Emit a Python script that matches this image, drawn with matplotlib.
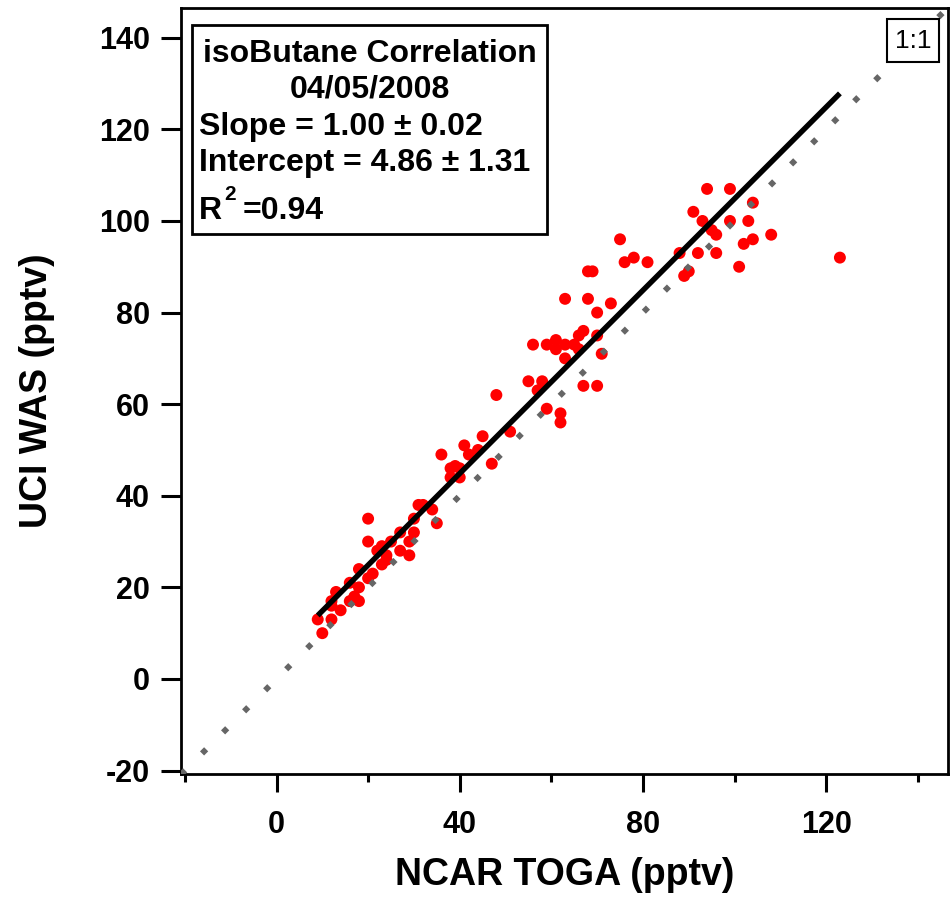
import matplotlib
matplotlib.use("Agg")
import matplotlib.pyplot as plt
from matplotlib.patches import Rectangle
import numpy as np

# ---- data ----
toga = [94, 99, 104, 91, 93, 99, 103, 95, 96, 104, 108, 102, 75, 88, 92, 96, 76, 78, 81, 101,
        90, 89, 123, 68, 69, 63, 68, 73, 70, 67, 66, 70, 61, 56, 59, 61, 63, 65, 66, 63,
        71, 55, 58, 57, 67, 70, 48, 59, 62, 62, 51, 45, 41, 44, 42, 36, 47, 38, 39, 40,
        38, 40, 31, 32, 34, 30, 35, 20, 27, 30, 20, 29, 23, 25, 22, 27, 29, 24, 23, 24,
        18, 20, 21, 16, 18, 13, 17, 16, 18, 12, 14, 12, 9, 12, 10]
was = [107, 107, 104, 102, 100, 100, 100, 98, 97, 96, 97, 95, 96, 93, 93, 93, 91, 92, 91, 90,
       89, 88, 92, 89, 89, 83, 83, 82, 80, 76, 75, 75, 74, 73, 73, 72, 73, 73, 72, 70,
       71, 65, 65, 63, 64, 64, 62, 59, 58, 56, 54, 53, 51, 50, 49, 49, 47, 46, 46.5, 46,
       44, 44, 38, 38, 37, 35, 34, 35, 32, 32, 30, 30, 29, 30, 28, 28, 27, 27, 25, 26,
       24, 22, 23, 21, 20, 19, 18, 17, 17, 17, 15, 16, 13, 13, 10]

slope = 1.00
intercept = 4.86
title_lines = ["isoButane Correlation", "04/05/2008"]
stats_lines = ["Slope = 1.00 \u00b1 0.02", "Intercept = 4.86 \u00b1 1.31"]
r2_text = "=0.94"
x_ticks_major = [0, 40, 80, 120]
x_ticks_minor = [-20, 20, 60, 100, 140]
y_ticks = [-20, 0, 20, 40, 60, 80, 100, 120, 140]
xlim = (-20.85, 146.6)
ylim = (-20.75, 146.5)

FONT = "Liberation Sans"
W, H = 951, 901

fig = plt.figure(figsize=(W / 100, H / 100), dpi=100)
ax = fig.add_axes([181 / W, 1 - 774 / H, (948 - 181) / W, (774 - 8) / H])

ax.scatter(toga, was, s=74, color="#ff0000", edgecolors="none", zorder=2)

# 1:1 line
lx = np.array([xlim[0], xlim[1]])
ax.plot(lx, lx, color="#666666", lw=4.2, dashes=(1, 4.1), dash_capstyle="butt", zorder=3)

# fit line
fx = np.array([min(toga), max(toga)])
ax.plot(fx, intercept + slope * fx, color="black", lw=3.9, solid_capstyle="butt", zorder=4)

ax.set_xlim(*xlim)
ax.set_ylim(*ylim)
ax.set_xticks(x_ticks_major)
ax.set_xticks(x_ticks_minor, minor=True)
ax.set_yticks(y_ticks)
ax.set_xticklabels([str(v) for v in x_ticks_major])
ax.set_yticklabels([str(v) for v in y_ticks])

for sp in ax.spines.values():
    sp.set_linewidth(2.0)
ax.tick_params(axis="x", which="major", direction="out", length=13, width=2.2, pad=13)
ax.tick_params(axis="x", which="minor", direction="out", length=6, width=2.2)
ax.tick_params(axis="y", which="major", direction="out", length=14.5, width=2.2, pad=8)
for lab in ax.get_xticklabels() + ax.get_yticklabels():
    lab.set_fontfamily(FONT)
    lab.set_fontweight("bold")
    lab.set_fontsize(22)

ax.set_xlabel("NCAR TOGA (pptv)", fontfamily=FONT, fontweight="bold", fontsize=27)
ax.set_ylabel("UCI WAS (pptv)", fontfamily=FONT, fontweight="bold", fontsize=27)
ax.xaxis.set_label_coords(0.5, (774 - 875) / 766)
ax.xaxis.label.set_va("center")
ax.yaxis.set_label_coords((37 - 181) / 767, 0.5)
ax.yaxis.label.set_va("center")


def fxp(px):
    return px / W


def fyp(py):
    return 1 - py / H


# text box
fig.patches.append(Rectangle((fxp(192), fyp(234)), (547 - 192) / W, (234 - 25) / H,
                             transform=fig.transFigure, facecolor="white",
                             edgecolor="black", lw=2.0, zorder=5))
tkw = dict(fontfamily=FONT, fontweight="bold", fontsize=23, va="baseline", zorder=6)
fig.text(fxp(369.5), fyp(61.5), title_lines[0], ha="center", **tkw)
fig.text(fxp(369.5), fyp(98), title_lines[1], ha="center", **tkw)
fig.text(fxp(199), fyp(135), stats_lines[0], ha="left", **tkw)
fig.text(fxp(199), fyp(171.5), stats_lines[1], ha="left", **tkw)
fig.text(fxp(199), fyp(219), "R", ha="left", **tkw)
fig.text(fxp(224), fyp(200), "2", ha="left", fontfamily=FONT, fontweight="bold",
         fontsize=15, va="baseline", zorder=6)
fig.text(fxp(243), fyp(219), r2_text, ha="left", **tkw)

# 1:1 box
fig.patches.append(Rectangle((fxp(887), fyp(62)), (939 - 887) / W, (62 - 19) / H,
                             transform=fig.transFigure, facecolor="white",
                             edgecolor="black", lw=1.5, zorder=5))
fig.text(fxp(913), fyp(40.5), "1:1", ha="center", va="center", fontfamily=FONT,
         fontsize=19, zorder=6)

fig.savefig("out.png", dpi=100)
